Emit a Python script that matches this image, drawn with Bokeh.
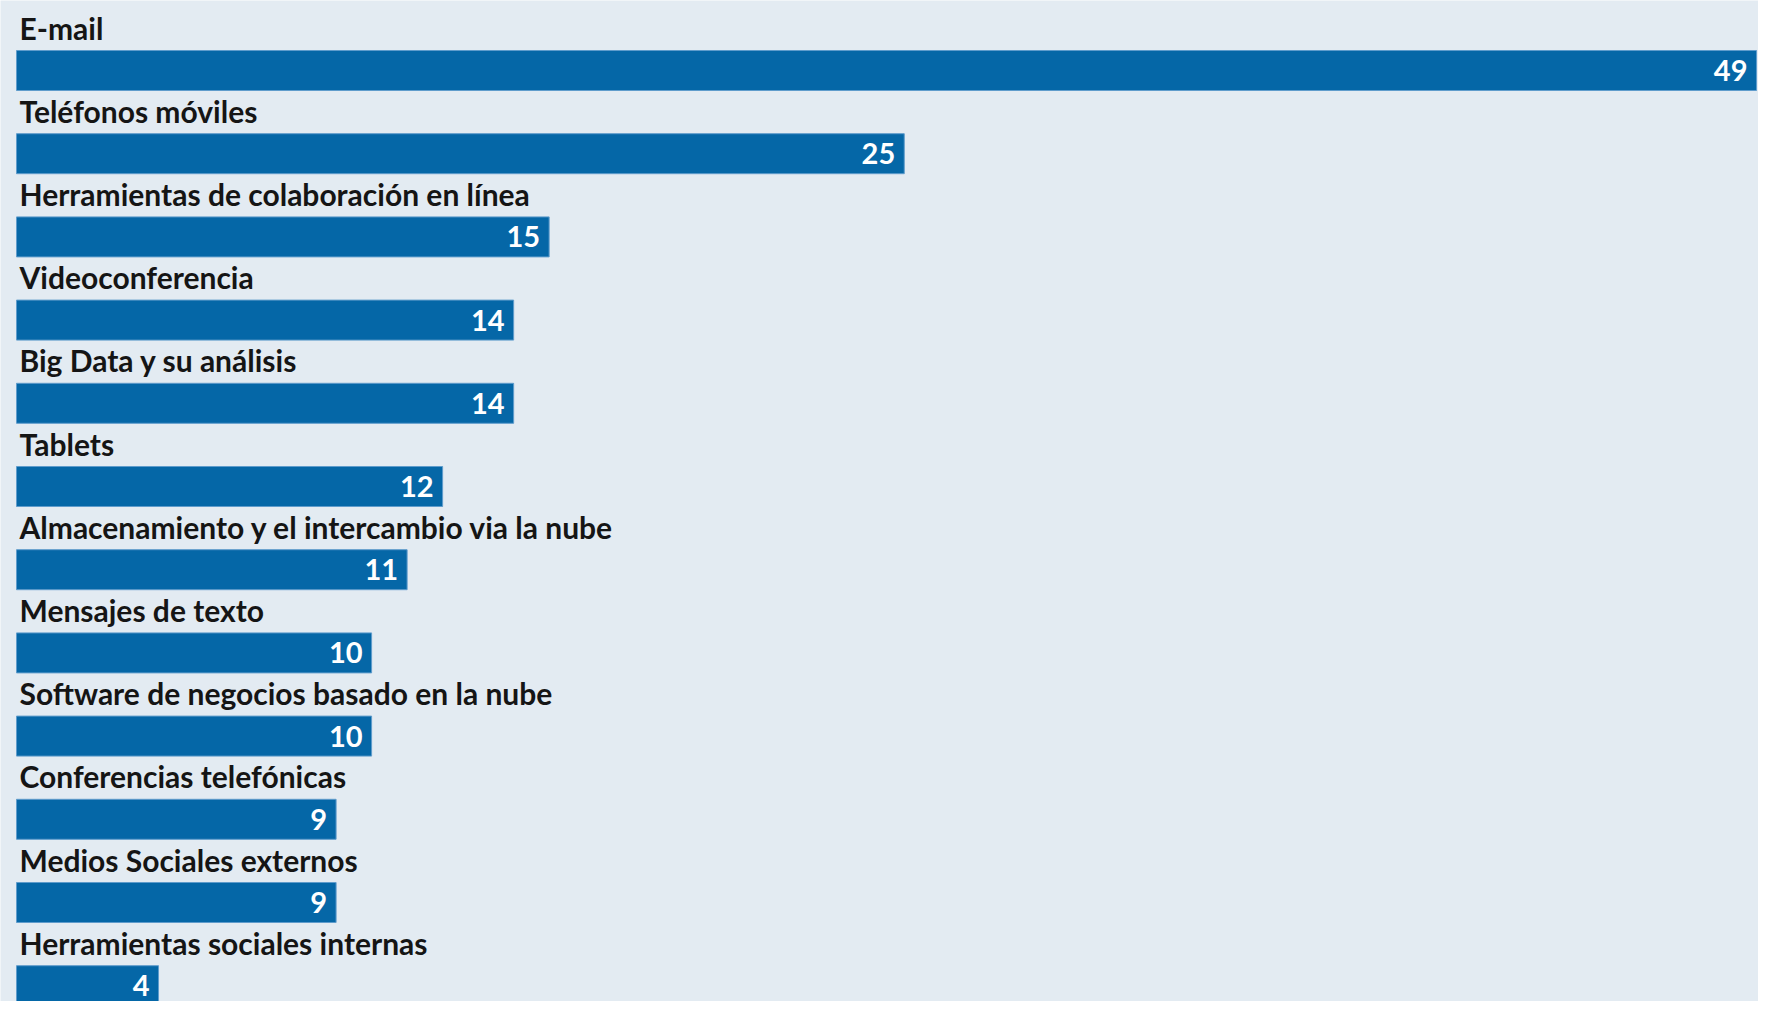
from bokeh.plotting import figure
from bokeh.models import Range1d, ColumnDataSource
from bokeh.embed import file_html
from bokeh.resources import INLINE
from bokeh.core.properties import value

categories = [
    "E-mail",
    "Teléfonos móviles",
    "Herramientas de colaboración en línea",
    "Videoconferencia",
    "Big Data y su análisis",
    "Tablets",
    "Almacenamiento y el intercambio via la nube",
    "Mensajes de texto",
    "Software de negocios basado en la nube",
    "Conferencias telefónicas",
    "Medios Sociales externos",
    "Herramientas sociales internas",
]
values = [49, 25, 15, 14, 14, 12, 11, 10, 10, 9, 9, 4]

BG = "#e3ebf2"
BAR = "#0567a7"
W, H = 1758, 1001
PITCH = 83.2          # px between rows
BAR_PX = 40           # bar thickness in px
ROW0_PX = 70          # centre of first row from top of figure
LEFT_PX, RIGHT_PX = 16, 1756

vmax = max(values)
upp = vmax / (RIGHT_PX - LEFT_PX)
x_start = -LEFT_PX * upp
x_end = x_start + W * upp
y_top = -ROW0_PX / PITCH
y_bottom = y_top + H / PITCH

src = ColumnDataSource(dict(
    y=list(range(len(categories))),
    cat=categories,
    v=values,
    lab=[str(v) for v in values],
))

p = figure(width=W, height=H,
           x_range=Range1d(x_start, x_end),
           y_range=Range1d(y_bottom, y_top),
           x_axis_type=None, y_axis_type=None,
           output_backend="svg", toolbar_location=None,
           min_border=0, background_fill_color=BG, border_fill_color=BG,
           outline_line_color=None)
p.grid.visible = False

p.hbar(y="y", left=0, right="v", height=BAR_PX / PITCH, source=src,
       fill_color=BAR, line_color="#5f9ccc", line_width=1)

p.text(x=0, y="y", text="cat", source=src, x_offset=3, y_offset=-43,
       text_font=value("Lato"), text_font_style="bold", text_font_size="30px",
       text_color="#151515", text_baseline="alphabetic", text_align="left")

p.text(x="v", y="y", text="lab", source=src, x_offset=-9, y_offset=0,
       text_font=value("Lato"), text_font_style="bold", text_font_size="29px",
       text_color="white", text_baseline="middle", text_align="right")

open("out.html", "w").write(file_html(p, INLINE))
